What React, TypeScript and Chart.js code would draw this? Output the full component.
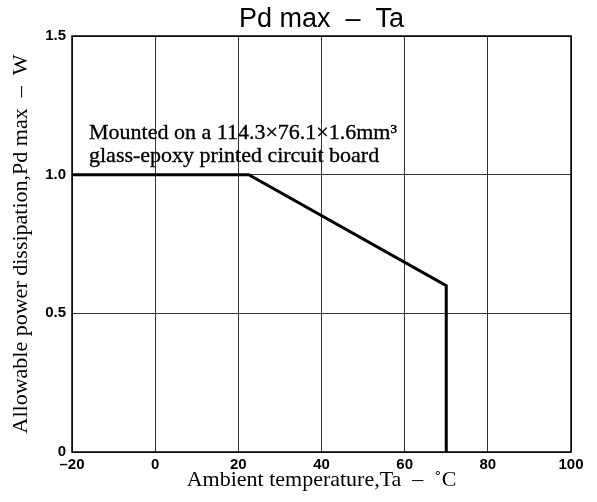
import React, { useEffect, useRef } from "react";
import { Chart, registerables } from "chart.js";

Chart.register(...registerables);

const temperatures = [-20, 22.5, 70, 70];
const powerValues = [1.0, 1.0, 0.6, 0];
const xTicks = [-20, 0, 20, 40, 60, 80, 100];
const yTicks = [0, 0.5, 1.0, 1.5];
const chartTitle = "Pd max  \u2013  Ta";
const xAxisTitle = "Ambient temperature,Ta  \u2013  \u02DAC";
const yAxisTitle = "Allowable power dissipation,Pd max  \u2013  W";
const noteLines = ["Mounted on a 114.3\u00D776.1\u00D71.6mm\u00B3", "glass-epoxy printed circuit board"];

const SERIF = "'Liberation Serif', 'Times New Roman', serif";
const SANS = "'Liberation Sans', Arial, sans-serif";

const decorPlugin = {
  id: "decor",
  afterDraw(chart: any) {
    const { ctx, chartArea } = chart;
    ctx.save();
    ctx.strokeStyle = "#000";
    ctx.lineWidth = 1.5;
    ctx.strokeRect(chartArea.left, chartArea.top, chartArea.right - chartArea.left, chartArea.bottom - chartArea.top);
    ctx.fillStyle = "#000";
    ctx.font = `27px ${SANS}`;
    ctx.textAlign = "center";
    ctx.textBaseline = "alphabetic";
    ctx.fillText(chartTitle, (chartArea.left + chartArea.right) / 2, 27);
    ctx.font = `22px ${SERIF}`;
    ctx.textAlign = "left";
    ctx.lineWidth = 0.35;
    noteLines.forEach((line, i) => {
      const y = 139 + i * 23;
      ctx.fillText(line, chartArea.left + 17, y);
      ctx.strokeText(line, chartArea.left + 17, y);
    });
    ctx.restore();
  },
};

export default function App() {
  const ref = useRef<HTMLCanvasElement>(null);
  useEffect(() => {
    if (!ref.current) return;
    const chart = new Chart(ref.current, {
      type: "line",
      data: {
        datasets: [
          {
            data: temperatures.map((t, i) => ({ x: t, y: powerValues[i] })),
            borderColor: "#000",
            borderWidth: 3,
            pointRadius: 0,
            tension: 0,
            fill: false,
            borderJoinStyle: "miter",
          },
        ],
      },
      options: {
        animation: false,
        responsive: false,
        layout: { padding: { top: 36, right: 26, left: 0, bottom: 0 } },
        plugins: { legend: { display: false }, title: { display: false }, tooltip: { enabled: false } },
        scales: {
          x: {
            type: "linear",
            min: xTicks[0],
            max: xTicks[xTicks.length - 1],
            afterBuildTicks: (s: any) => {
              s.ticks = xTicks.map((v) => ({ value: v }));
            },
            afterFit: (s: any) => {
              s.height = 50;
            },
            ticks: {
              color: "#000",
              font: { family: SANS, size: 15, weight: "bold" },
              padding: 4,
              maxRotation: 0,
              callback: (v: any) => (v < 0 ? "\u2013" + Math.abs(v) : String(v)),
            },
            grid: { color: "#333", lineWidth: 1, drawTicks: false },
            border: { display: false },
            title: {
              display: true,
              text: xAxisTitle,
              color: "#000",
              font: { family: SERIF, size: 22 },
              padding: { top: 0, bottom: 9 },
            },
          },
          y: {
            type: "linear",
            min: yTicks[0],
            max: yTicks[yTicks.length - 1],
            afterBuildTicks: (s: any) => {
              s.ticks = yTicks.map((v) => ({ value: v }));
            },
            afterFit: (s: any) => {
              s.width = 72;
            },
            ticks: {
              color: "#000",
              font: { family: SANS, size: 15, weight: "bold" },
              padding: 6,
              callback: (v: any) => (v === 0 ? "0" : Number(v).toFixed(1)),
            },
            grid: { color: "#333", lineWidth: 1, drawTicks: false },
            border: { display: false },
            title: {
              display: true,
              text: yAxisTitle,
              color: "#000",
              font: { family: SERIF, size: 22 },
              padding: { top: 8, bottom: 0 },
            },
          },
        },
      },
      plugins: [decorPlugin],
    } as any);
    return () => chart.destroy();
  }, []);
  return (
    <div style={{ position: "fixed", left: 0, top: 0, width: 597, height: 502, background: "#fff" }}>
      <canvas ref={ref} width={597} height={502} />
    </div>
  );
}
